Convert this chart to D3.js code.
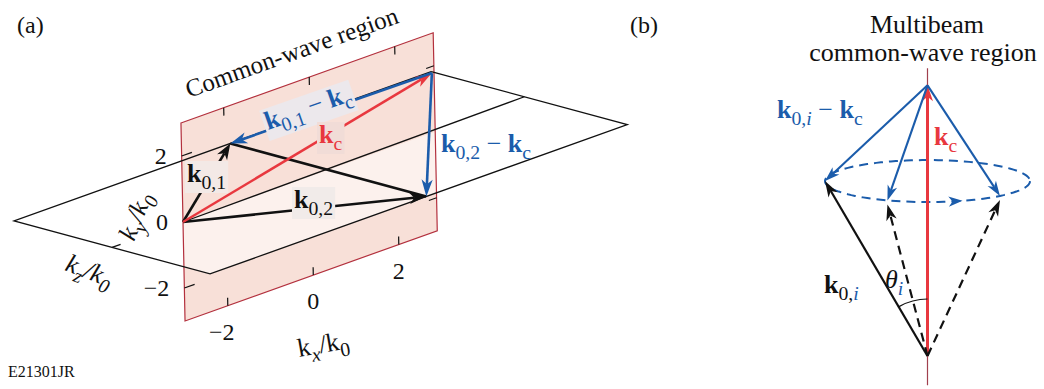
<!DOCTYPE html>
<html>
<head>
<meta charset="utf-8">
<script src="https://cdnjs.cloudflare.com/ajax/libs/d3/7.8.5/d3.min.js"></script>
<style>
  body { margin: 0; background: #fff; }
  svg { display: block; }
  text { font-family: "Liberation Serif", "Times New Roman", serif; fill: #111; }
</style>
</head>
<body>
<div id="chart"></div>
<script>
// ---- panel (a): k-space, in units of k0 ----
const kxTicks = [-2, 0, 2];
const kyTicks = [2, 0, -2];
const kyEdgeTicks = [2, -2];
const pinkKx = [-3, 2.9];
const pinkKy = [-3, 3];
const blackKx = [-4.66, 5.1];
const blackKz = [-3, 3];
const kOrigin = [-3, 0, 0];
const k01Tip = [0.4, 0, -3];
const k02Tip = [0.4, 0, 3];
const kcTip = [2.85, 1.8, 0];
const midlineEnd = [5.1, 0, -0.15];

// ---- panel (b): multibeam cone ----
const thetaDeg = 30;          // cone half angle theta_i
const kcLen = 1.34;           // |kc| / k0
const beamAzimuth = [180, 113, 45];   // azimuth of k0,i on the cone
const solidBeam = [true, false, false];
const axisRange = [-0.145, 1.425];

const W = 1044, H = 389;
const BLUE = '#1b5cab', RED = '#e8383f', PINK = '#f8e0d8', EDGE = '#b3303d';

const svg = d3.select('#chart').append('svg').attr('width', W).attr('height', H);

// oblique projection of (kx, ky, kz) built from linear scales
const X0 = 311.25, Y0 = 176.1;
const kxToX = d3.scaleLinear().domain([0, 1]).range([0, 42.75]);
const kxToY = d3.scaleLinear().domain([0, 1]).range([0, -15.3]);
const kyToX = d3.scaleLinear().domain([0, 1]).range([0, -0.68]);
const kyToY = d3.scaleLinear().domain([0, 1]).range([0, -33]);
const kzToX = d3.scaleLinear().domain([0, 1]).range([0, 32.67]);
const kzToY = d3.scaleLinear().domain([0, 1]).range([0, 8.83]);
function proj(p) {
  return [X0 + kxToX(p[0]) + kyToX(p[1]) + kzToX(p[2]),
          Y0 + kxToY(p[0]) + kyToY(p[1]) + kzToY(p[2])];
}
const line = d3.line();

function arrow(g, p0, p1, color, w, len, half, dash) {
  const dx = p1[0] - p0[0], dy = p1[1] - p0[1], L = Math.hypot(dx, dy);
  const ux = dx / L, uy = dy / L, nx = -uy, ny = ux;
  const bx = p1[0] - ux * len, by = p1[1] - uy * len;
  const mx = p1[0] - ux * len * 0.72, my = p1[1] - uy * len * 0.72;
  g.append('path').attr('d', line([p0, [mx, my]]))
    .attr('stroke', color).attr('stroke-width', w).attr('fill', 'none')
    .attr('stroke-dasharray', dash || null);
  g.append('path')
    .attr('d', line([p1, [bx + nx * half, by + ny * half], [mx, my], [bx - nx * half, by - ny * half]]) + 'Z')
    .attr('fill', color);
}

function label(g, x, y, parts, size, anchor) {
  const t = g.append('text').attr('x', x).attr('y', y).attr('font-size', size)
    .attr('text-anchor', anchor || 'start');
  let shift = 0;
  parts.forEach(p => {
    const target = p.sub ? size * 0.27 : 0;
    const s = t.append('tspan').text(p.t).attr('dy', target - shift);
    shift = target;
    if (p.sub) s.attr('font-size', size * 0.76);
    if (p.b) s.attr('font-weight', 'bold');
    if (p.i) s.attr('font-style', 'italic');
    if (p.c) s.attr('fill', p.c);
  });
  return t;
}

function boxBehind(g, t, fill, pad) {
  const bb = t.node().getBBox();
  g.insert('rect', () => t.node())
    .attr('x', bb.x - pad).attr('y', bb.y + 2).attr('width', bb.width + 2 * pad).attr('height', bb.height - 2)
    .attr('fill', fill);
}

// ================= panel (a) =================
const ga = svg.append('g');

const pink = [[pinkKx[0], pinkKy[1], 0], [pinkKx[1], pinkKy[1], 0], [pinkKx[1], pinkKy[0], 0], [pinkKx[0], pinkKy[0], 0]].map(proj);
ga.append('path').attr('d', line(pink) + 'Z').attr('fill', PINK);

// front half of the black plane veils the pink plane
const front = [[blackKx[0], 0, 0], [blackKx[1], 0, 0], [blackKx[1], 0, blackKz[1]], [blackKx[0], 0, blackKz[1]]].map(proj);
ga.append('path').attr('d', line(front) + 'Z').attr('fill', '#fff').attr('opacity', 0.55);

ga.append('path').attr('d', line(pink) + 'Z').attr('fill', 'none').attr('stroke', EDGE).attr('stroke-width', 1.2);

// pink plane ticks
const tk = ga.append('g').attr('stroke', '#111').attr('stroke-width', 1.2);
kxTicks.forEach(v => {
  tk.append('path').attr('d', line([proj([v, pinkKy[0], 0]), proj([v, pinkKy[0] + 0.24, 0])]));
  tk.append('path').attr('d', line([proj([v, pinkKy[1], 0]), proj([v, pinkKy[1] - 0.24, 0])]));
});
kyEdgeTicks.forEach(v => {
  tk.append('path').attr('d', line([proj([pinkKx[0], v, 0]), proj([pinkKx[0] + 0.24, v, 0])]));
  tk.append('path').attr('d', line([proj([pinkKx[1], v, 0]), proj([pinkKx[1] - 0.18, v, 0])]));
});
tk.append('path').attr('d', line([proj([blackKx[0], 0, 0]), proj([blackKx[0] + 0.2, 0, 0])]));

// black plane outline + intersection line
const A = proj([blackKx[0], 0, blackKz[0]]), B = proj([blackKx[0], 0, blackKz[1]]),
      C = proj([blackKx[1], 0, blackKz[1]]), D = proj([blackKx[1], 0, blackKz[0]]);
ga.append('path').attr('d', line([D, A, B, C, D]))
  .attr('fill', 'none').attr('stroke', '#111').attr('stroke-width', 1.3);
ga.append('path').attr('d', line([proj(kOrigin), proj(midlineEnd)]))
  .attr('fill', 'none').attr('stroke', '#111').attr('stroke-width', 1.3);

// tick labels
kyTicks.forEach(v => {
  const p = proj([pinkKx[0], v, 0]);
  ga.append('text').attr('x', p[0] - 15).attr('y', p[1] + 8).attr('font-size', 24)
    .attr('text-anchor', 'end').text(v < 0 ? '\u2212' + (-v) : v);
});
kxTicks.forEach(v => {
  const p = proj([v, pinkKy[0], 0]);
  ga.append('text').attr('x', p[0] - (v < 0 ? 6 : 0)).attr('y', p[1] + 34).attr('font-size', 24)
    .attr('text-anchor', 'middle').text(v < 0 ? '\u2212' + (-v) : v);
});

// vectors
const O = proj(kOrigin), P1 = proj(k01Tip), P2 = proj(k02Tip), KC = proj(kcTip);
ga.append('path').attr('d', line([P1, P2])).attr('stroke', '#111').attr('stroke-width', 2.6);
arrow(ga, O, P1, '#111', 2.6, 16, 5.8);
arrow(ga, O, P2, '#111', 2.6, 17, 5.8);
arrow(ga, O, KC, RED, 2.4, 17, 5.6);
arrow(ga, KC, P2, BLUE, 2.6, 17, 5.6);

// blue k0,1 - kc arrow with its label sitting on it
arrow(ga, KC, P1, BLUE, 2.6, 17, 5.6);
const ang = Math.atan2(P1[1] - KC[1], P1[0] - KC[0]) * 180 / Math.PI + 180;
const gl = ga.append('g').attr('transform', `translate(268,130) rotate(${ang})`);
const tl = label(gl, 0, 0, [{t: 'k', b: 1, c: BLUE}, {t: '0,1', sub: 1, c: BLUE}, {t: ' \u2212 ', c: BLUE}, {t: 'k', b: 1, c: BLUE}, {t: 'c', sub: 1, c: BLUE}], 26);
boxBehind(gl, tl, '#ece8ec', 2);

const t01 = label(ga, 187, 182, [{t: 'k', b: 1}, {t: '0,1', sub: 1}], 26);
boxBehind(ga, t01, '#f3e9e6', 2);
const t02 = label(ga, 294, 208, [{t: 'k', b: 1}, {t: '0,2', sub: 1}], 26);
boxBehind(ga, t02, '#f1ebe9', 2);
const tkc = label(ga, 319, 143, [{t: 'k', b: 1, c: RED}, {t: 'c', sub: 1, c: RED}], 26);
boxBehind(ga, tkc, '#f1dcd7', 2);
label(ga, 441, 152, [{t: 'k', b: 1, c: BLUE}, {t: '0,2', sub: 1, c: BLUE}, {t: ' \u2212 ', c: BLUE}, {t: 'k', b: 1, c: BLUE}, {t: 'c', sub: 1, c: BLUE}], 26);

// titles and axis names
ga.append('text').attr('x', 17).attr('y', 33).attr('font-size', 24).text('(a)');
const edgeAng = Math.atan2(pink[1][1] - pink[0][1], pink[1][0] - pink[0][0]) * 180 / Math.PI;
ga.append('text').attr('transform', `translate(${pink[0][0] + 8},${pink[0][1] - 25}) rotate(${edgeAng})`)
  .attr('font-size', 25).text('Common-wave region');
ga.append('text').attr('x', 8).attr('y', 377).attr('font-size', 16).text('E21301JR');

const gx = ga.append('g').attr('transform', 'translate(299,357) rotate(-10)');
label(gx, 0, 0, [{t: 'k'}, {t: 'x', sub: 1, i: 1}, {t: '/k'}, {t: '0', sub: 1}], 26);
const gz = ga.append('g').attr('transform', 'translate(64,270) rotate(21)');
label(gz, 0, 0, [{t: 'k', i: 1}, {t: 'z', sub: 1, i: 1}, {t: '/', i: 1}, {t: 'k', i: 1}, {t: '0', sub: 1, i: 1}], 26);
const gy = ga.append('g').attr('transform', 'translate(134,242) rotate(-68)');
label(gy, 0, 0, [{t: 'k', i: 1}, {t: 'y', sub: 1, i: 1}, {t: '/', i: 1}, {t: 'k', i: 1}, {t: '0', sub: 1, i: 1}], 26);

// ================= panel (b) =================
const gb = svg.append('g');
const bx = 927.5, by = 356;
const hor = d3.scaleLinear().domain([0, 1]).range([bx, bx + 205]);
const ver = d3.scaleLinear().domain([0, 1]).range([by, by - 202]);
const dep = d3.scaleLinear().domain([0, 1]).range([0, 42]);
function cone(r, h, depth) { return [hor(r), ver(h) + dep(depth)]; }

const th = thetaDeg * Math.PI / 180;
const ringH = Math.cos(th), ringR = Math.sin(th);
const ringPt = az => { const a = az * Math.PI / 180; return cone(ringR * Math.cos(a), ringH, ringR * Math.sin(a)); };

gb.append('text').attr('x', 630).attr('y', 33).attr('font-size', 24).text('(b)');
gb.append('text').attr('x', 927).attr('y', 33).attr('font-size', 26).attr('text-anchor', 'middle').text('Multibeam');
gb.append('text').attr('x', 923).attr('y', 61).attr('font-size', 26).attr('text-anchor', 'middle').text('common-wave region');

// kc axis (thin)
gb.append('path').attr('d', line([cone(0, axisRange[0], 0), cone(0, axisRange[1], 0)]))
  .attr('stroke', '#a0404e').attr('stroke-width', 1.2);

// dashed ring
const ring = d3.range(0, 361, 3).map(ringPt);
gb.append('path').attr('d', line(ring)).attr('fill', 'none').attr('stroke', BLUE)
  .attr('stroke-width', 2).attr('stroke-dasharray', '9,6');
// ring direction arrowhead
arrow(gb, ringPt(78), ringPt(70), BLUE, 0, 14, 5.2);

const T = cone(0, kcLen, 0), Bp = cone(0, 0, 0);
arrow(gb, Bp, T, RED, 3, 16, 5.5);

beamAzimuth.forEach((az, i) => {
  const tip = ringPt(az);
  arrow(gb, T, tip, BLUE, 2.1, 15, 5);
  const end = solidBeam[i] ? tip : [tip[0], tip[1] + 4];
  arrow(gb, Bp, end, '#111', 2.2, 16, 5.3, solidBeam[i] ? null : '9,6');
});

// angle theta_i
const arc = d3.path();
arc.arc(Bp[0], Bp[1], 57, -Math.PI / 2 - th, -Math.PI / 2);
gb.append('path').attr('d', arc.toString()).attr('fill', 'none').attr('stroke', '#111').attr('stroke-width', 1.2);

label(gb, 777, 118, [{t: 'k', b: 1, c: BLUE}, {t: '0,', sub: 1, c: BLUE}, {t: 'i', sub: 1, i: 1, c: BLUE}, {t: ' \u2212 ', c: BLUE}, {t: 'k', b: 1, c: BLUE}, {t: 'c', sub: 1, c: BLUE}], 26);
label(gb, 934, 145, [{t: 'k', b: 1, c: RED}, {t: 'c', sub: 1, c: RED}], 26);
label(gb, 824, 293, [{t: 'k', b: 1}, {t: '0,', sub: 1}, {t: 'i', sub: 1, i: 1, c: BLUE}], 26);
label(gb, 885, 288, [{t: '\u03b8', i: 1}, {t: 'i', sub: 1, i: 1, c: BLUE}], 26);
</script>
</body>
</html>
